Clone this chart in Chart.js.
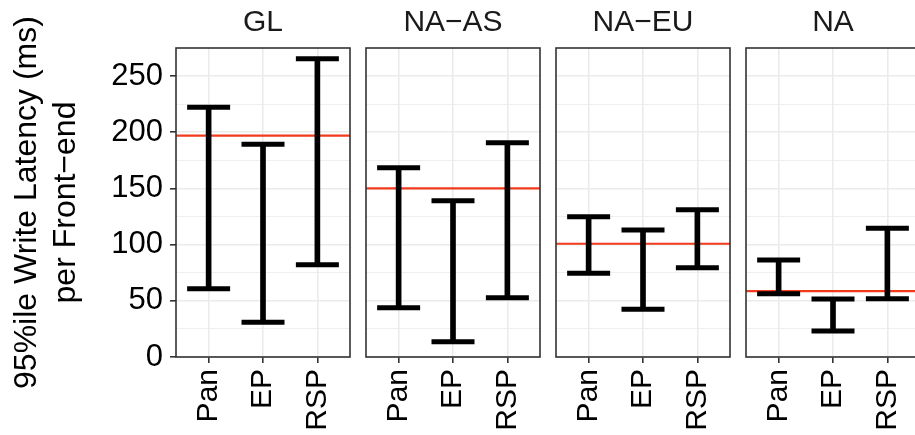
<!DOCTYPE html>
<html>
<head>
<meta charset="utf-8">
<script src="https://cdn.jsdelivr.net/npm/chart.js@4.4.1/dist/chart.umd.min.js"></script>
<style>
html, body { margin:0; padding:0; background:#fff; width:915px; height:435px; overflow:hidden; }
.p { position:absolute; top:0; height:435px; }
</style>
</head>
<body>
<div class="p" style="left:0px;"><canvas id="c0" width="352" height="435"></canvas></div>
<div class="p" style="left:364px;"><canvas id="c1" width="178" height="435"></canvas></div>
<div class="p" style="left:554px;"><canvas id="c2" width="178" height="435"></canvas></div>
<div class="p" style="left:744px;"><canvas id="c3" width="178" height="435"></canvas></div>
<script>
// ---- data ----
const categories = ['Pan', 'EP', 'RSP'];
const panelNames = ['GL', 'NA\u2212AS', 'NA\u2212EU', 'NA'];

const lowGL   = [60.8, 30.9, 82.1];
const highGL  = [222.2, 189.3, 265.5];
const lowNAAS  = [43.9, 13.6, 52.8];
const highNAAS = [168.5, 139.1, 190.7];
const lowNAEU  = [74.5, 42.5, 79.5];
const highNAEU = [124.9, 113.0, 131.1];
const lowNA   = [56.3, 23.1, 51.9];
const highNA  = [86.3, 51.6, 114.5];

const refLine = [197.0, 150.1, 100.8, 58.7];

const yGridTicks  = [0, 25, 50, 75, 100, 125, 150, 175, 200, 225, 250];
const yLabelTicks = [0, 50, 100, 150, 200, 250];
const yTitle = ['95%ile Write Latency (ms)', 'per Front\u2212end'];

const lows  = [lowGL, lowNAAS, lowNAEU, lowNA];
const highs = [highGL, highNAAS, highNAEU, highNA];

// ---- rendering ----
Chart.defaults.font.family = "'Liberation Sans', Arial, Helvetica, sans-serif";
const X_MIN = 0.4, X_MAX = 3.6, Y_MIN = 0, Y_MAX = 275;

const panelBorder = {
  id: 'panelBorder',
  afterDraw(chart) {
    const { ctx, chartArea: a } = chart;
    ctx.save();
    ctx.strokeStyle = '#333333';
    ctx.lineWidth = 1.6;
    ctx.strokeRect(a.left, a.top, a.right - a.left, a.bottom - a.top);
    ctx.restore();
  }
};

function makePanel(idx) {
  const first = idx === 0;
  const lo = lows[idx], hi = highs[idx];
  const capPoints = [];
  categories.forEach((c, i) => {
    capPoints.push({ x: i + 1, y: lo[i] });
    capPoints.push({ x: i + 1, y: hi[i] });
  });
  return new Chart(document.getElementById('c' + idx), {
    type: 'scatter',
    data: {
      datasets: [
        {
          type: 'line',
          data: [{ x: X_MIN, y: refLine[idx] }, { x: X_MAX, y: refLine[idx] }],
          borderColor: '#F23A1C',
          borderWidth: 2.2,
          pointRadius: 0,
          fill: false,
          order: 3
        },
        {
          type: 'bar',
          data: categories.map((c, i) => ({ x: i + 1, y: [lo[i], hi[i]] })),
          backgroundColor: '#000000',
          borderWidth: 0,
          barThickness: 5,
          order: 2
        },
        {
          type: 'scatter',
          data: capPoints,
          pointStyle: 'line',
          pointRadius: 21.5,
          pointHoverRadius: 21.5,
          pointBorderWidth: 5,
          pointBorderColor: '#000000',
          pointBackgroundColor: '#000000',
          order: 1
        }
      ]
    },
    options: {
      responsive: false,
      animation: false,
      events: [],
      layout: { autoPadding: false, padding: { left: first ? 0 : 2, right: 2, top: 0, bottom: 0 } },
      plugins: {
        legend: { display: false },
        tooltip: { enabled: false },
        title: {
          display: true,
          text: panelNames[idx],
          fullSize: false,
          color: '#1A1A1A',
          font: { size: 30, weight: 'normal', lineHeight: 1.2 },
          padding: { top: 5, bottom: 7 }
        }
      },
      scales: {
        x: {
          type: 'linear',
          min: X_MIN,
          max: X_MAX,
          offset: false,
          afterBuildTicks: s => { s.ticks = categories.map((c, i) => ({ value: i + 1 })); },
          afterFit: s => { s.height = 78; s.paddingLeft = 0; s.paddingRight = 0; },
          ticks: {
            autoSkip: false,
            minRotation: 90,
            maxRotation: 90,
            padding: 6,
            color: '#000000',
            font: { size: 30 },
            callback: v => categories[v - 1] ?? ''
          },
          grid: {
            color: '#EBEBEB',
            lineWidth: 1.6,
            offset: false,
            drawTicks: true,
            tickLength: 6,
            tickWidth: 1.6,
            tickColor: '#333333'
          },
          border: { display: false }
        },
        y: {
          type: 'linear',
          min: Y_MIN,
          max: Y_MAX,
          afterBuildTicks: s => { s.ticks = yGridTicks.map(v => ({ value: v })); },
          afterFit: s => { s.width = first ? 176 : 0; s.paddingTop = 0; s.paddingBottom = 0; },
          ticks: {
            display: first,
            autoSkip: false,
            padding: 7,
            color: '#000000',
            font: { size: 31 },
            callback: v => yLabelTicks.includes(v) ? String(v) : ''
          },
          grid: {
            color: '#EBEBEB',
            lineWidth: c => yLabelTicks.includes(c.tick.value) ? 1.6 : 0.8,
            drawTicks: first,
            tickLength: 6,
            tickWidth: 1.6,
            tickColor: c => yLabelTicks.includes(c.tick.value) ? '#333333' : 'rgba(0,0,0,0)'
          },
          border: { display: false },
          title: first ? {
            display: true,
            text: yTitle,
            color: '#000000',
            font: { size: 32, lineHeight: 1.22 },
            padding: { top: 8, bottom: 0 }
          } : { display: false }
        }
      }
    },
    plugins: [panelBorder]
  });
}

[0, 1, 2, 3].forEach(makePanel);
</script>
</body>
</html>
